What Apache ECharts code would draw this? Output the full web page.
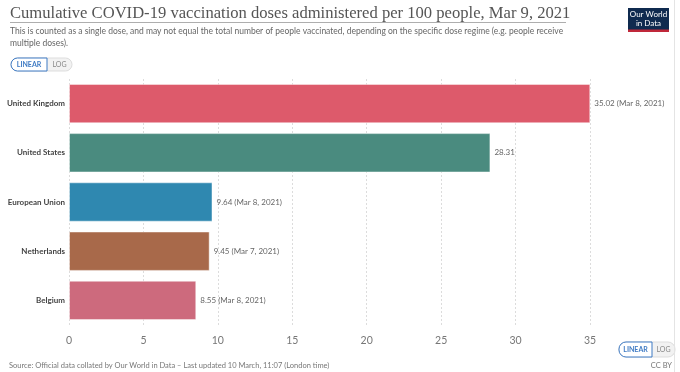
<!DOCTYPE html>
<html><head><meta charset="utf-8">
<script src="https://cdn.jsdelivr.net/npm/echarts@6/dist/echarts.min.js"></script>
<style>html,body{margin:0;padding:0;background:#fff}#c{width:680px;height:372px}</style>
</head><body><div id="c"></div>
<script>
const categories = ["United Kingdom","United States","European Union","Netherlands","Belgium"];
const values = [35.02, 28.31, 9.64, 9.45, 8.55];
const dateNotes = ["(Mar 8, 2021)", "", "(Mar 8, 2021)", "(Mar 7, 2021)", "(Mar 8, 2021)"];
const colors = ["#dd5a6b", "#4a8b7f", "#2f88b0", "#a8694a", "#cd6a7d"];
const xTicks = [0, 5, 10, 15, 20, 25, 30, 35];

const F = "Lato, 'Noto Sans', sans-serif";
const chart = echarts.init(document.getElementById('c'), null, {renderer:'canvas'});
chart.setOption({
  animation:false,
  backgroundColor:'#fff',
  grid:{left:69, right:90, top:79, bottom:47, containLabel:false, outerBoundsMode:'none'},
  xAxis:{type:'value', min:xTicks[0], max:xTicks[xTicks.length-1], interval:5,
    axisLine:{show:false}, axisTick:{show:false},
    axisLabel:{color:'#777', fontFamily:F, fontSize:10.5, margin:10},
    splitLine:{show:true, lineStyle:{color:'#dcdcdc', type:[2,2], width:1}}},
  yAxis:{type:'category', data:categories, inverse:true,
    axisLine:{show:false}, axisTick:{show:false},
    axisLabel:{color:'#444', fontFamily:F, fontSize:8, fontWeight:'bold', margin:4}},
  series:[{type:'bar', barCategoryGap:'20%',
    data: values.map((v,i)=>({value:v, itemStyle:{color:colors[i], borderColor:'rgba(255,255,255,0.45)', borderWidth:1}})),
    label:{show:true, position:'right', distance:4, color:'#666', fontFamily:F, fontSize:8,
      formatter:p=> values[p.dataIndex].toFixed(2) + (dateNotes[p.dataIndex] ? ' ' + dateNotes[p.dataIndex] : '')}
  }],
  graphic:[
    {type:'text', left:10, top:5.5, style:{text:'Cumulative COVID-19 vaccination doses administered per 100 people, Mar 9, 2021', fill:'#555', font:"16.6px 'Liberation Serif', serif"}},
    {type:'line', shape:{x1:10,y1:22.5,x2:566,y2:22.5}, style:{stroke:'#999', lineWidth:0.8}},
    {type:'text', left:10, top:25, style:{text:'This is counted as a single dose, and may not equal the total number of people vaccinated, depending on the specific dose regime (e.g. people receive\nmultiple doses).', fill:'#666', font:"8.5px Lato, sans-serif", lineHeight:12}},
    // top toggle
    {type:'rect', shape:{x:11,y:58,width:61,height:13,r:6.5}, style:{fill:'#f2f2f2', stroke:'#ddd', lineWidth:1}},
    {type:'rect', shape:{x:11,y:58,width:36,height:13,r:[6.5,0,0,6.5]}, style:{fill:'#fff', stroke:'#3f7bc4', lineWidth:1}},
    {type:'text', x:29, y:64.5, style:{text:'LINEAR', fill:'#3f7bc4', font:"bold 7px Lato, sans-serif", align:'center', verticalAlign:'middle'}},
    {type:'text', x:59.5, y:64.5, style:{text:'LOG', fill:'#888', font:"7px Lato, sans-serif", align:'center', verticalAlign:'middle'}},
    // bottom toggle
    {type:'rect', shape:{x:619,y:342,width:56,height:15,r:7}, style:{fill:'#f2f2f2', stroke:'#ddd', lineWidth:1}},
    {type:'rect', shape:{x:619,y:342,width:33,height:15,r:[7,0,0,7]}, style:{fill:'#fff', stroke:'#3f7bc4', lineWidth:1}},
    {type:'text', x:635.5, y:349.5, style:{text:'LINEAR', fill:'#3f7bc4', font:"bold 7px Lato, sans-serif", align:'center', verticalAlign:'middle'}},
    {type:'text', x:663.5, y:349.5, style:{text:'LOG', fill:'#888', font:"7px Lato, sans-serif", align:'center', verticalAlign:'middle'}},
    // logo
    {type:'rect', shape:{x:628,y:8,width:41,height:24}, style:{fill:'#0f2a4f'}},
    {type:'rect', shape:{x:628,y:29.5,width:41,height:2.5}, style:{fill:'#c0283a'}},
    {type:'text', x:648.5, y:18.5, style:{text:'Our World\nin Data', fill:'#fff', font:"8px Lato, sans-serif", align:'center', verticalAlign:'middle', lineHeight:9}},
    // footer
    {type:'text', left:9, top:362, style:{text:'Source: Official data collated by Our World in Data – Last updated 10 March, 11:07 (London time)', fill:'#777', font:"7.5px Lato, sans-serif"}},
    {type:'text', right:8, top:362, style:{text:'CC BY', fill:'#777', font:"7.5px Lato, sans-serif"}},
    {type:'line', shape:{x1:674.5,y1:0,x2:674.5,y2:372}, style:{stroke:'#e4e4e4', lineWidth:1}}
  ]
});
</script></body></html>
